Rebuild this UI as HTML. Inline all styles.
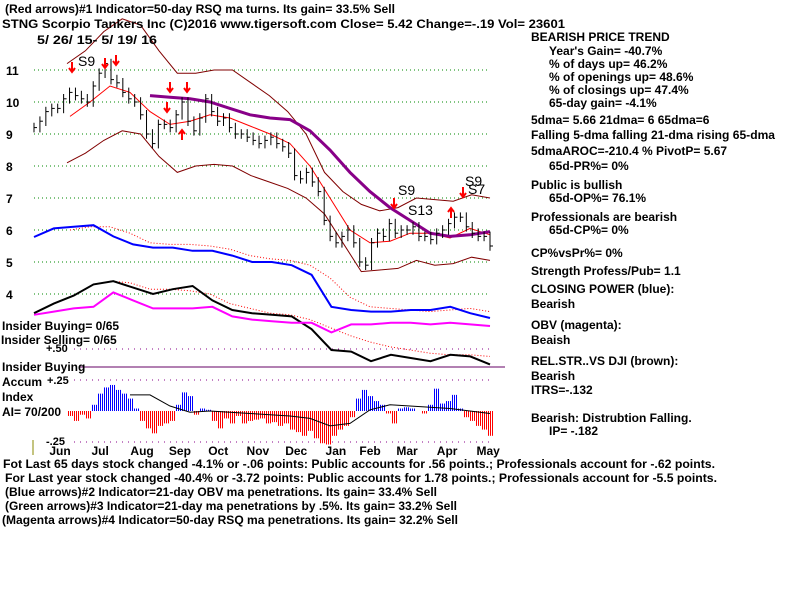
<!DOCTYPE html>
<html><head><meta charset="utf-8"><style>
body{margin:0;background:#fff}
svg{display:block}
text{font-family:"Liberation Sans",sans-serif;font-weight:bold;font-size:12px;fill:#000}
</style></head><body>
<svg id="c" width="800" height="600" viewBox="0 0 800 600">
<defs>
<pattern id="pb" width="2" height="4" patternUnits="userSpaceOnUse"><rect width="1" height="4" fill="#00f"/></pattern>
<pattern id="pr" width="2" height="4" patternUnits="userSpaceOnUse"><rect width="1" height="4" fill="#f00"/></pattern>
</defs>
<g id="grid"></g>
<g id="marks"></g>
<g>
<text x="5" y="13" textLength="390" lengthAdjust="spacingAndGlyphs">(Red arrows)#1 Indicator=50-day RSQ ma turns. Its gain= 33.5% Sell</text>
<text x="2" y="28" textLength="563" lengthAdjust="spacingAndGlyphs">STNG   Scorpio Tankers Inc   (C)2016 www.tigersoft.com     Close=  5.42   Change=-.19  Vol=  23601</text>
<text x="37" y="44" textLength="120" lengthAdjust="spacingAndGlyphs">5/ 26/ 15- 5/ 19/ 16</text>
</g>
<g>
<text x="531" y="41">BEARISH PRICE TREND</text>
<text x="549" y="55">Year's Gain= -40.7%</text>
<text x="549" y="68">% of days up= 46.2%</text>
<text x="549" y="81">% of openings up= 48.6%</text>
<text x="549" y="94">% of closings up= 47.4%</text>
<text x="549" y="107">65-day gain= -4.1%</text>
<text x="531" y="124">5dma= 5.66 21dma= 6 65dma=6</text>
<text x="531" y="139" textLength="244" lengthAdjust="spacingAndGlyphs">Falling 5-dma falling 21-dma rising 65-dma</text>
<text x="531" y="155">5dmaAROC=-210.4 %  PivotP= 5.67</text>
<text x="549" y="170">65d-PR%= 0%</text>
<text x="531" y="189">Public is bullish</text>
<text x="549" y="202">65d-OP%= 76.1%</text>
<text x="531" y="221">Professionals are bearish</text>
<text x="549" y="234">65d-CP%= 0%</text>
<text x="531" y="257">CP%vsPr%=  0%</text>
<text x="531" y="275">Strength Profess/Pub= 1.1</text>
<text x="531" y="293">CLOSING POWER (blue):</text>
<text x="531" y="308">Bearish</text>
<text x="531" y="329">OBV (magenta):</text>
<text x="531" y="344">Beaish</text>
<text x="531" y="365">REL.STR..VS DJI (brown):</text>
<text x="531" y="380">Bearish</text>
<text x="531" y="394">ITRS=-.132</text>
<text x="531" y="422">Bearish: Distrubtion Falling.</text>
<text x="549" y="435">IP= -.182</text>
</g>
<g>
<text x="2" y="330">Insider Buying= 0/65</text>
<text x="1" y="344">Insider Selling= 0/65</text>
<text x="46" y="352" style="font-size:11px">+.50</text>
<text x="2" y="371">Insider Buying</text>
<text x="2" y="386">Accum</text>
<text x="47" y="384" style="font-size:11px">+.25</text>
<text x="2" y="401">Index</text>
<text x="2" y="416">AI= 70/200</text>
<text x="46" y="445" style="font-size:11px">-.25</text>
</g>
<g style="font-weight:normal">
<text x="3" y="468" textLength="712" lengthAdjust="spacingAndGlyphs">Fot Last 65 days stock changed -4.1% or -.06 points:  Public accounts for  .56 points.;  Professionals account for -.62 points.</text>
<text x="5" y="482" textLength="712" lengthAdjust="spacingAndGlyphs">For Last year stock changed -40.4% or -3.72 points:  Public accounts for  1.78 points.;  Professionals account for -5.5 points.</text>
<text x="5" y="496" textLength="432" lengthAdjust="spacingAndGlyphs">(Blue arrows)#2 Indicator=21-day OBV ma penetrations. Its gain= 33.4% Sell</text>
<text x="5" y="510" textLength="452" lengthAdjust="spacingAndGlyphs">(Green arrows)#3 Indicator=21-day ma penetrations by .5%. Its gain= 33.2% Sell</text>
<text x="2" y="524" textLength="456" lengthAdjust="spacingAndGlyphs">(Magenta arrows)#4 Indicator=50-day RSQ ma penetrations. Its gain= 32.2% Sell</text>
</g>
</svg>
<script>
const priceTicks=[11,10,9,8,7,6,5,4];
const months=["Jun","Jul","Aug","Sep","Oct","Nov","Dec","Jan","Feb","Mar","Apr","May"];
const monthPos=[0.057,0.145,0.237,0.32,0.404,0.491,0.575,0.662,0.737,0.818,0.906,0.996];
const closes=[9.2,9.4,9.7,9.8,9.8,10.1,10.3,10.2,10.1,10.0,10.5,10.9,11.2,10.7,10.6,10.3,10.1,10.0,9.6,9.0,8.7,9.3,9.3,9.2,9.6,10.0,9.4,9.1,9.5,10.1,9.7,9.4,9.5,9.2,9.0,9.0,8.9,8.8,8.7,8.8,8.9,8.7,8.6,8.4,7.7,7.6,7.8,7.5,7.2,6.3,5.8,5.6,5.8,6.0,5.6,5.0,4.9,5.6,5.9,5.8,6.2,5.9,6.0,6.0,6.1,5.8,5.8,5.7,5.9,6.0,6.2,6.4,6.4,6.1,5.9,5.8,5.8,5.5];
const ma21=[9.55,10.0,10.5,10.3,9.7,9.3,9.4,9.6,9.5,9.25,9.0,8.7,8.0,7.0,6.0,5.6,5.65,5.9,5.9,5.75,6.05,5.85];
const ma65=[10.2,10.15,10.1,10.0,9.8,9.6,9.5,9.45,9.1,8.5,7.8,7.2,6.7,6.3,5.9,5.8,5.85,5.95];
const upperBand=[11.2,11.6,12.2,12.6,12.4,11.6,10.9,10.9,11.0,11.0,10.6,10.2,9.7,9.0,7.8,7.2,6.8,6.6,6.7,7.0,6.95,6.9,7.1,7.0];
const lowerBand=[8.1,8.4,8.8,9.1,9.0,8.3,7.8,8.0,8.05,8.0,7.7,7.5,7.3,7.0,6.5,5.6,4.7,4.75,4.8,5.05,4.9,4.95,5.15,5.05];
const closingPower=[5.78,6.05,6.1,6.15,5.8,5.55,5.45,5.45,5.35,5.35,5.2,5.0,5.0,4.9,4.6,3.6,3.5,3.45,3.45,3.5,3.5,3.6,3.4,3.25];
const cpMa=[6.0,6.1,6.1,5.9,5.6,5.55,5.55,5.5,5.4,5.2,5.1,5.05,4.9,4.5,3.9,3.6,3.55,3.5,3.45,3.5,3.55,3.45];
const relStrength=[3.4,3.7,3.95,4.3,4.4,4.2,4.0,4.15,4.25,3.8,3.5,3.4,3.35,3.3,2.9,2.25,2.2,1.9,2.1,2.0,1.9,2.1,2.05,1.8];
const rsMa=[4.4,4.35,4.15,4.15,4.1,4.0,3.7,3.55,3.4,3.35,3.2,2.95,2.7,2.5,2.35,2.25,2.15,2.1,2.1,2.05];
const obv=[3.35,3.45,3.55,3.6,4.05,3.8,3.55,3.55,3.55,3.6,3.3,3.2,3.15,3.1,3.1,2.8,3.05,3.05,3.1,3.1,3.05,3.1,3.05,3.0];
const accumIndex=[-0.04,-0.08,-0.03,-0.06,0.05,0.14,0.19,0.21,0.17,0.14,0.1,0.02,-0.08,-0.14,-0.18,-0.12,-0.1,-0.08,0.05,0.15,0.12,-0.03,0.02,0.01,-0.08,-0.14,-0.06,-0.1,-0.04,-0.1,-0.08,-0.07,-0.06,-0.1,-0.09,-0.12,-0.1,-0.15,-0.17,-0.2,-0.16,-0.22,-0.26,-0.27,-0.2,-0.15,-0.12,-0.05,0.1,0.17,0.12,0.08,0.05,-0.02,-0.1,0.02,0.03,0.02,0.0,-0.02,0.05,0.18,0.06,0.08,0.13,0.02,-0.05,-0.08,-0.12,-0.15,-0.2];
const aiAvg=[0.13,0.13,0.04,-0.01,0.0,-0.01,-0.02,-0.03,-0.04,-0.06,-0.12,-0.1,0.01,0.05,0.04,0.03,0.02,0.0,-0.02];
const NS="http://www.w3.org/2000/svg";
const X0=34,X1=490,YAT=p=>70+(11-p)*32;
const AI0=411,aiY=v=>AI0-v*124;
const xs=(i,n,a,b)=>a+(b-a)*i/(n-1);
const grid=document.getElementById('grid'),marks=document.getElementById('marks');
function mk(tag,at,parent){const e=document.createElementNS(NS,tag);for(const k in at)e.setAttribute(k,at[k]);(parent||marks).appendChild(e);return e;}
priceTicks.forEach(p=>{
 const l=mk('line',{x1:X0,x2:X1,y1:YAT(p),y2:YAT(p),stroke:'#080',"stroke-dasharray":'1 3'},grid);
 
 
 const t=mk('text',{x:6,y:YAT(p)+5},grid);t.textContent=p;
 
 
});
[0.5,0.25,-0.25].forEach(v=>{
 mk('line',{x1:X0+40,x2:X1,y1:aiY(v),y2:aiY(v),stroke:'#808',"stroke-dasharray":'1 5'},grid);
});
mk('line',{x1:80,x2:505,y1:367,y2:367,stroke:'#606'},grid);
mk('line',{x1:33,x2:33,y1:440,y2:455,stroke:'#880'},grid);
months.forEach((m,i)=>{const t=mk('text',{x:X0+(X1-X0)*monthPos[i],y:455,"text-anchor":"middle"});t.textContent=m;
 
 });
function poly(arr,a,b,yf,style,name){
 const pts=arr.map((v,i)=>xs(i,arr.length,a,b).toFixed(1)+','+yf(v).toFixed(1)).join(' ');
 const p=mk('polyline',Object.assign({points:pts,fill:'none'},style));
 
 
 return p;
}
poly(upperBand,67,490,YAT,{stroke:'#800000'},'upper-band');
poly(lowerBand,67,490,YAT,{stroke:'#800000'},'lower-band');
poly(ma21,70,490,YAT,{stroke:'#f00'},'ma21-line');
poly(ma65,150,490,YAT,{stroke:'#808',"stroke-width":3},'ma65-line');
closes.forEach((c,i)=>{
 const x=xs(i,closes.length,X0,X1),prev=i?closes[i-1]:c;
 const hi=Math.max(c,prev)+0.15,lo=Math.min(c,prev)-0.15;
 const b=mk('line',{x1:x,x2:x,y1:YAT(hi),y2:YAT(lo),stroke:'#000'});
 
 
 mk('line',{x1:x,x2:x+3,y1:YAT(c),y2:YAT(c),stroke:'#000'});
});
poly(cpMa,70,490,YAT,{stroke:'#f00',"stroke-dasharray":'1 2'},'closing-power-ma');
poly(rsMa,110,490,YAT,{stroke:'#f00',"stroke-dasharray":'1 2'},'rel-strength-ma');
poly(closingPower,X0,X1,YAT,{stroke:'#00f',"stroke-width":2},'closing-power-line');
poly(relStrength,X0,X1,YAT,{stroke:'#000',"stroke-width":2},'rel-strength-line');
poly(obv,X0,X1,YAT,{stroke:'#f0f',"stroke-width":2},'obv-line');
const aw=(490-70)/(accumIndex.length-1);
accumIndex.forEach((v,i)=>{
 const x=xs(i,accumIndex.length,70,490);
 const r=mk('rect',{x:x-aw/2,width:aw,y:Math.min(aiY(v),AI0),height:Math.abs(aiY(v)-AI0),fill:v>=0?'url(#pb)':'url(#pr)'});
 
 
});
poly(aiAvg,130,490,aiY,{stroke:'#000'},'accum-index-ma');
[['S9',78,66],['S9',398,195],['S13',408,215],['S9',465,186],['S7',468,194]].forEach(([s,x,y])=>{const t=mk('text',{x:x,y:y,style:'font-size:14px;font-weight:normal'});t.textContent=s;
 
 });
[[72,62,1],[105,58,1],[116,55,1],[170,82,1],[187,82,1],[167,102,1],[182,140,-1],[463,187,1],[451,218,-1],[394,198,1]].forEach(([x,y,d])=>{
 const a=mk('path',{d:d>0?`M${x} ${y} v10 m-3 -4 l3 4 l3 -4`:`M${x} ${y} v-10 m-3 4 l3 -4 l3 4`,stroke:'#f00',"stroke-width":2,fill:'none'});
 
 
});
</script>
</body></html>
